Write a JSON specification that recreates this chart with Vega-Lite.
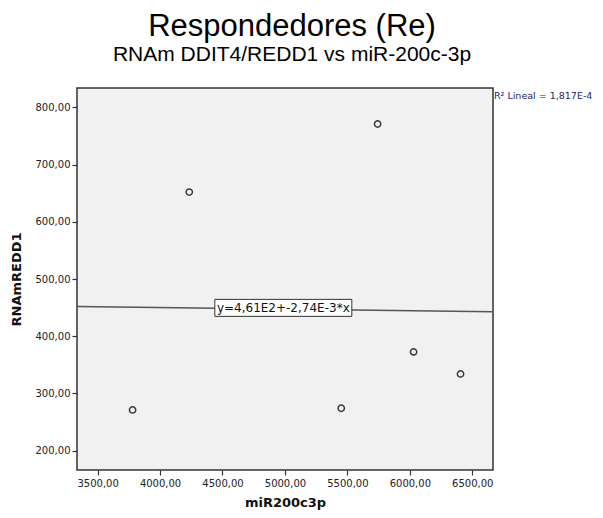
{
  "$schema": "https://vega.github.io/schema/vega-lite/v6.json",
  "width": 416,
  "height": 382,
  "autosize": {"type": "none"},
  "padding": {"left": 77, "top": 88, "right": 110, "bottom": 48},
  "background": "white",
  "title": {
    "text": "Respondedores (Re)",
    "subtitle": "RNAm DDIT4/REDD1 vs miR-200c-3p",
    "font": "Liberation Sans",
    "fontSize": 31,
    "fontWeight": "normal",
    "color": "black",
    "subtitleFont": "Liberation Sans",
    "subtitleFontSize": 21,
    "subtitleColor": "black",
    "subtitlePadding": 1,
    "anchor": "middle",
    "frame": "group",
    "dx": 7,
    "offset": 22
  },
  "config": {
    "view": {"fill": "#f1f1f1", "stroke": "#333333", "strokeWidth": 1.5},
    "axis": {
      "grid": false,
      "domain": false,
      "ticks": true,
      "tickSize": 5,
      "tickColor": "#333333",
      "tickWidth": 1.2,
      "labelFont": "DejaVu Sans",
      "labelFontSize": 10,
      "labelColor": "#222222",
      "titleFont": "DejaVu Sans",
      "titleFontWeight": "bold",
      "titleColor": "#111111",
      "titleFontSize": 13
    }
  },
  "datasets": {
    "points": [
      {"miR200c3p": 3780, "RNAmREDD1": 271},
      {"miR200c3p": 4234, "RNAmREDD1": 652},
      {"miR200c3p": 5742, "RNAmREDD1": 771},
      {"miR200c3p": 5451, "RNAmREDD1": 274},
      {"miR200c3p": 6030, "RNAmREDD1": 372.5},
      {"miR200c3p": 6406, "RNAmREDD1": 334}
    ],
    "fit": [
      {"miR200c3p": 3335, "RNAmREDD1": 451.9},
      {"miR200c3p": 6666, "RNAmREDD1": 442.7}
    ],
    "annotations": [
      {"label": "y=4,61E2+-2,74E-3*x"}
    ],
    "r2": [
      {"label": "R² Lineal = 1,817E-4"}
    ]
  },
  "layer": [
    {
      "data": {"name": "fit"},
      "mark": {"type": "line", "color": "#555555", "strokeWidth": 1.5},
      "encoding": {
        "x": {
          "field": "miR200c3p",
          "type": "quantitative",
          "scale": {"domain": [3335, 6666], "nice": false, "zero": false},
          "axis": {
            "values": [3500, 4000, 4500, 5000, 5500, 6000, 6500],
            "labelExpr": "replace(format(datum.value, '.2f'), '.', ',')",
            "title": "miR200c3p",
            "titlePadding": 8,
            "labelPadding": 3
          }
        },
        "y": {
          "field": "RNAmREDD1",
          "type": "quantitative",
          "scale": {"domain": [166, 834], "nice": false, "zero": false},
          "axis": {
            "values": [200, 300, 400, 500, 600, 700, 800],
            "labelExpr": "replace(format(datum.value, '.2f'), '.', ',')",
            "title": "RNAmREDD1",
            "titlePadding": 12,
            "labelPadding": 2
          }
        }
      }
    },
    {
      "data": {"name": "points"},
      "mark": {"type": "point", "filled": false, "color": "#3a3a3a", "strokeWidth": 1.5, "size": 40, "opacity": 1},
      "encoding": {
        "x": {"field": "miR200c3p", "type": "quantitative"},
        "y": {"field": "RNAmREDD1", "type": "quantitative"}
      }
    },
    {
      "data": {"name": "annotations"},
      "mark": {
        "type": "point",
        "shape": "M-1,-0.124 L1,-0.124 L1,0.124 L-1,0.124 Z",
        "size": 18769,
        "filled": true,
        "fill": "white",
        "stroke": "#333333",
        "strokeWidth": 1,
        "opacity": 1,
        "fillOpacity": 1
      },
      "encoding": {
        "x": {"datum": 4987, "type": "quantitative"},
        "y": {"datum": 449.5, "type": "quantitative"}
      }
    },
    {
      "data": {"name": "annotations"},
      "mark": {"type": "text", "font": "DejaVu Sans", "fontSize": 12, "color": "#111111", "align": "center", "baseline": "middle"},
      "encoding": {
        "text": {"field": "label"},
        "x": {"datum": 4987, "type": "quantitative"},
        "y": {"datum": 449.5, "type": "quantitative"}
      }
    },
    {
      "data": {"name": "r2"},
      "mark": {"type": "text", "font": "DejaVu Sans", "fontSize": 9.5, "color": "#24246a", "align": "left", "baseline": "middle", "dx": 1, "clip": false},
      "encoding": {
        "text": {"field": "label"},
        "x": {"datum": 6666, "type": "quantitative"},
        "y": {"datum": 820, "type": "quantitative"}
      }
    }
  ]
}
